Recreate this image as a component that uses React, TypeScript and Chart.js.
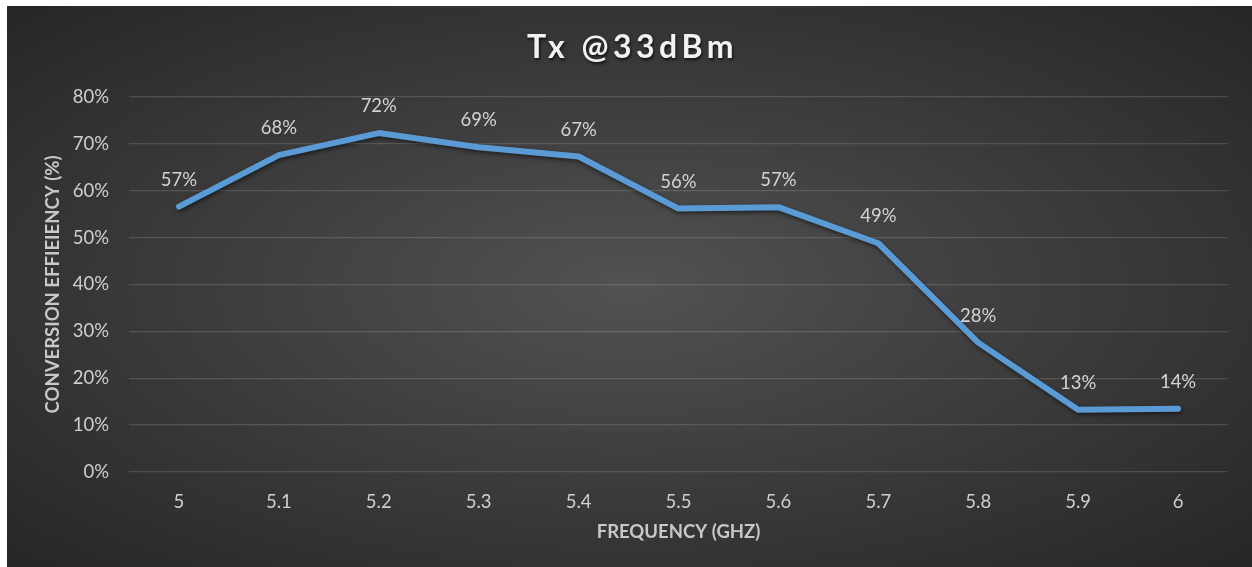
import React, { useEffect, useRef } from 'react';
import { Chart, registerables } from 'chart.js';

Chart.register(...registerables);

const categories: string[] = ['5', '5.1', '5.2', '5.3', '5.4', '5.5', '5.6', '5.7', '5.8', '5.9', '6'];
const efficiency: number[] = [56.6, 67.6, 72.3, 69.3, 67.3, 56.2, 56.5, 48.8, 27.6, 13.3, 13.5];
const yMin = 0;
const yMax = 80;
const yStep = 10;
const chartTitle = 'Tx @33dBm';
const xAxisTitle = 'FREQUENCY (GHZ)';
const yAxisTitle = 'CONVERSION EFFIEIENCY (%)';

const FONT = 'Lato';
const W = 1245;
const H = 561;

const shadowPlugin = {
  id: 'lineShadow',
  beforeDatasetDraw(chart: any) {
    const ctx = chart.ctx;
    ctx.save();
    ctx.shadowColor = 'rgba(0,0,0,0.55)';
    ctx.shadowBlur = 4;
    ctx.shadowOffsetX = 1;
    ctx.shadowOffsetY = 2;
  },
  afterDatasetDraw(chart: any) {
    chart.ctx.restore();
  },
};

const labelPlugin = {
  id: 'valueLabels',
  afterDatasetsDraw(chart: any) {
    const ctx = chart.ctx;
    const meta = chart.getDatasetMeta(0);
    const data = chart.data.datasets[0].data as number[];
    ctx.save();
    ctx.font = `18.5px ${FONT}`;
    ctx.fillStyle = '#d4d4d4';
    ctx.textAlign = 'center';
    ctx.textBaseline = 'middle';
    meta.data.forEach((pt: any, i: number) => {
      ctx.fillText(`${Math.round(data[i])}%`, pt.x, pt.y - 27);
    });
    ctx.restore();
  },
};

const titlePlugin = {
  id: 'spacedTitle',
  afterDraw(chart: any) {
    const ctx = chart.ctx;
    ctx.save();
    ctx.font = `bold 32px ${FONT}`;
    (ctx as any).letterSpacing = '4.5px';
    ctx.fillStyle = '#f2f2f2';
    ctx.textAlign = 'center';
    ctx.textBaseline = 'middle';
    ctx.shadowColor = 'rgba(0,0,0,0.7)';
    ctx.shadowBlur = 3;
    ctx.shadowOffsetX = 1;
    ctx.shadowOffsetY = 2;
    ctx.fillText(chartTitle, chart.width / 2 + 3, 42);
    ctx.restore();
  },
};

export default function App() {
  const canvasRef = useRef<HTMLCanvasElement | null>(null);

  useEffect(() => {
    if (!canvasRef.current) return;
    const chart = new Chart(canvasRef.current, {
      type: 'line',
      data: {
        labels: categories,
        datasets: [
          {
            data: efficiency,
            borderColor: '#5b9bd5',
            borderWidth: 6,
            borderJoinStyle: 'round',
            borderCapStyle: 'round',
            pointRadius: 0,
            pointHoverRadius: 0,
            tension: 0,
            fill: false,
          },
        ],
      },
      options: {
        responsive: false,
        animation: false,
        layout: { padding: { top: 91, right: 24, left: 0, bottom: 0 } },
        plugins: {
          legend: { display: false },
          tooltip: { enabled: false },
          title: { display: false },
        },
        scales: {
          x: {
            offset: true,
            grid: { display: false, drawTicks: false },
            border: { display: false },
            ticks: {
              color: '#cfcfcf',
              font: { family: FONT, size: 18.5 },
              padding: 19,
              maxRotation: 0,
            },
            title: {
              display: true,
              text: xAxisTitle,
              color: '#c8c8c8',
              font: { family: FONT, size: 18.5, weight: 'bold' },
              padding: { top: 0, bottom: 24 },
            },
            afterFit(scale: any) {
              scale.height = 95;
            },
          },
          y: {
            min: yMin,
            max: yMax,
            grid: { color: 'rgba(255,255,255,0.14)', lineWidth: 1.3, drawTicks: false },
            border: { display: false },
            ticks: {
              stepSize: yStep,
              color: '#cfcfcf',
              font: { family: FONT, size: 18.5 },
              padding: 20,
              callback: (v: any) => `${v}%`,
            },
            title: {
              display: true,
              text: yAxisTitle,
              color: '#c8c8c8',
              font: { family: FONT, size: 18.5, weight: 'bold' },
              padding: { top: 35, bottom: 0 },
            },
            afterFit(scale: any) {
              scale.width = 122;
            },
          },
        },
      },
      plugins: [shadowPlugin, labelPlugin, titlePlugin],
    });
    return () => chart.destroy();
  }, []);

  return (
    <div
      style={{
        position: 'fixed',
        left: 7,
        top: 6,
        width: W,
        height: H,
        background:
          'radial-gradient(ellipse farthest-corner at 50% 50%, #525252 0%, #404040 40%, #262626 100%)',
      }}
    >
      <canvas ref={canvasRef} width={W} height={H} style={{ display: 'block' }} />
    </div>
  );
}
